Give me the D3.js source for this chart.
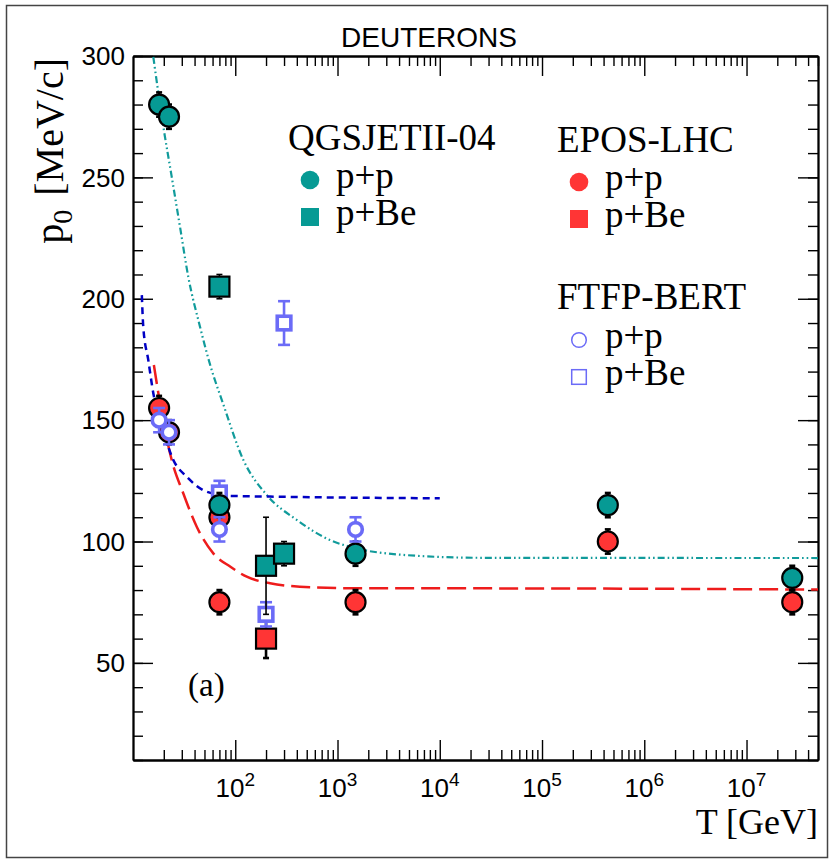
<!DOCTYPE html>
<html>
<head>
<meta charset="utf-8">
<script src="https://cdn.jsdelivr.net/npm/d3@7"></script>
<style>
  body { margin: 0; background: #fff; }
  svg { display: block; }
</style>
</head>
<body>
<svg id="chart"></svg>
<script>
////////////////////////////////////////////////////////////////////////////////
//////////////////////////////////////////////////////// Data
////////////////////////////////////////////////////////////////////////////////

// T [GeV], p0 [MeV/c], error [MeV/c]
const qgsPpT   = [18, 22.5, 70, 1500, 4.4e5, 2.8e7];
const qgsPpP   = [280, 275, 115, 95, 115, 85];
const qgsPpErr = [5, 5, 5, 5, 5, 5];

const qgsPbeT   = [70, 200, 300];
const qgsPbeP   = [205, 90, 95];
const qgsPbeErr = [5, 20, 5];

const eposPpT   = [18, 22.5, 70, 70, 1500, 4.4e5, 2.8e7];
const eposPpP   = [155, 145, 110, 75, 75, 100, 75];
const eposPpErr = [5, 5, 5, 5, 5, 5, 5];

const eposPbeT   = [200];
const eposPbeP   = [60];
const eposPbeErr = [8];

const ftfPpT   = [18, 22.5, 70, 1500];
const ftfPpP   = [150, 145, 105, 105];
const ftfPpErr = [5, 5, 5, 5];

const ftfPbeT   = [70, 200, 300];
const ftfPbeP   = [120, 70, 190];
const ftfPbeErr = [5, 5, 9];

// fit curves
const qgsFitT = [15.8, 19.8, 23.9, 28.8, 34.7, 45.2, 56.6, 76.4, 120, 203, 399, 844, 1517, 3794, 24700, 5e7];
const qgsFitP = [299.6, 270.9, 250.3, 229.7, 209.1, 188.5, 173, 156.5, 133.6, 119.2, 108.9, 100.6, 97.2, 94.7, 93.3, 93.2];

const eposFitT = [16, 17.7, 23.9, 31, 42, 61, 89.7, 129.5, 219, 580, 1786, 24700, 5e7];
const eposFitP = [172.7, 161.1, 133.6, 119.9, 106.1, 95.1, 89.6, 85.5, 82.8, 81.1, 80.7, 80.7, 80.2];

const ftfFitT = [12.2, 12.6, 14.1, 15.8, 19.6, 24.8, 33.5, 52.6, 88.9, 219, 1e4];
const ftfFitP = [201.5, 188.5, 174.8, 161.1, 146, 133.6, 126.7, 120.5, 118.8, 118.5, 117.8];

// axis labels
const yTickLabels = [50, 100, 150, 200, 250, 300];
const xTickExponents = [2, 3, 4, 5, 6, 7];

////////////////////////////////////////////////////////////////////////////////
//////////////////////////////////////////////////////////////////// Chart setup
////////////////////////////////////////////////////////////////////////////////

const teal = "#069a94";
const red = "#ff3535";
const lightBlue = "#6b6bf7";
const serif = "'Liberation Serif', 'Times New Roman', serif";
const sans = "'Liberation Sans', Arial, Helvetica, sans-serif";

const margin = { top: 56, right: 15, bottom: 102, left: 133 };
const width = 833 - margin.left - margin.right;
const height = 862 - margin.top - margin.bottom;

const svg = d3.select("#chart")
              .attr("width", 833)
              .attr("height", 862);

// outer border of the canvas
svg.append("rect")
     .attr("x", 6.5).attr("y", 5.5)
     .attr("width", 821).attr("height", 852)
     .attr("fill", "#fff")
     .attr("stroke", "#444")
     .attr("stroke-width", 1.5);

const g = svg.append("g")
               .attr("transform", `translate(${margin.left},${margin.top})`);

const xScale = d3.scaleLog().domain([10, 5e7]).range([0, width]);
const yScale = d3.scaleLinear().domain([10, 300]).range([height, 0]);

// minor tick positions
const xMinor = [];
for (let e = 1; e <= 7; e++) {
  for (let m = 2; m <= 9; m++) {
    if (m * 10 ** e <= 5e7) xMinor.push(m * 10 ** e);
  }
}
const xMajor = xTickExponents.map(e => 10 ** e);
const yMinor = d3.range(10, 301, 10);

function drawTicks(axis, values, size, transform) {
  const a = g.append("g")
               .attr("transform", transform)
               .call(axis.tickValues(values).tickSize(size).tickSizeOuter(0).tickFormat(""));
  a.select(".domain").attr("stroke-width", 1.8);
  a.selectAll(".tick line").attr("stroke-width", 1.4);
}

// bottom & top
drawTicks(d3.axisBottom(xScale), xMinor, -10, `translate(0,${height})`);
drawTicks(d3.axisBottom(xScale), xMajor, -20, `translate(0,${height})`);
drawTicks(d3.axisTop(xScale), xMinor, -10, "translate(0,0)");
drawTicks(d3.axisTop(xScale), xMajor, -20, "translate(0,0)");
// left & right
drawTicks(d3.axisLeft(yScale), yMinor, -10, "translate(0,0)");
drawTicks(d3.axisLeft(yScale), yTickLabels, -20, "translate(0,0)");
drawTicks(d3.axisRight(yScale), yMinor, -10, `translate(${width},0)`);
drawTicks(d3.axisRight(yScale), yTickLabels, -20, `translate(${width},0)`);

// Y tick labels
g.selectAll(".ylab")
  .data(yTickLabels)
  .join("text")
    .attr("x", -8)
    .attr("y", d => yScale(d))
    .attr("dy", "0.36em")
    .attr("text-anchor", "end")
    .style("font-family", sans)
    .style("font-size", "26px")
    .text(d => d);

// X tick labels 10^n
xTickExponents.forEach(function(e) {
  const t = g.append("text")
               .attr("x", xScale(10 ** e))
               .attr("y", height + 37)
               .attr("text-anchor", "middle")
               .style("font-family", sans)
               .style("font-size", "26px");
  t.append("tspan").text("10");
  t.append("tspan").attr("dy", -11).style("font-size", "19px").text(e);
});

// Titles
svg.append("text")
     .attr("x", 429).attr("y", 47)
     .attr("text-anchor", "middle")
     .style("font-family", sans)
     .style("font-size", "28px")
     .text("DEUTERONS");

svg.append("text")
     .attr("x", 818).attr("y", 834)
     .attr("text-anchor", "end")
     .style("font-family", serif)
     .style("font-size", "36px")
     .text("T [GeV]");

const yTitle = svg.append("text")
                    .attr("transform", "translate(63,58) rotate(-90)")
                    .attr("text-anchor", "end")
                    .style("font-family", serif)
                    .style("font-size", "40px");
yTitle.append("tspan").text("p");
yTitle.append("tspan").attr("dy", 9).style("font-size", "28px").text("0");
yTitle.append("tspan").attr("dy", -9).attr("dx", 14).text("[MeV/c]");

svg.append("text")
     .attr("x", 188).attr("y", 696)
     .style("font-family", serif)
     .style("font-size", "33px")
     .text("(a)");

////////////////////////////////////////////////////////////////////////////////
///////////////////////////////////////////////////////////////////// Fit curves
////////////////////////////////////////////////////////////////////////////////

g.append("clipPath").attr("id", "plotClip")
   .append("rect").attr("width", width).attr("height", height);

function drawCurve(T, P, color, dash, w) {
  const pts = T.map((t, i) => [xScale(t), yScale(P[i])]);
  g.append("path")
     .attr("clip-path", "url(#plotClip)")
     .attr("d", d3.line().curve(d3.curveMonotoneX)(pts))
     .attr("fill", "none")
     .attr("stroke", color)
     .attr("stroke-width", w)
     .attr("stroke-dasharray", dash);
}

drawCurve(qgsFitT, qgsFitP, "#119b9b", "7,3,1.6,3,1.6,3", 2.2);
drawCurve(eposFitT, eposFitP, "#ee1c1c", "19,7", 2.5);
drawCurve(ftfFitT, ftfFitP, "#0000c4", "7,5", 2.5);

////////////////////////////////////////////////////////////////////////////////
///////////////////////////////////////////////////////////////////////// Points
////////////////////////////////////////////////////////////////////////////////

function drawErrors(T, P, E, color, w, cap) {
  T.forEach(function(t, i) {
    const x = xScale(t);
    const y1 = yScale(P[i] - E[i]);
    const y2 = yScale(P[i] + E[i]);
    g.append("line").attr("x1", x).attr("x2", x).attr("y1", y1).attr("y2", y2)
       .attr("stroke", color).attr("stroke-width", w);
    [y1, y2].forEach(function(y) {
      g.append("line").attr("x1", x - cap / 2).attr("x2", x + cap / 2).attr("y1", y).attr("y2", y)
         .attr("stroke", color).attr("stroke-width", w);
    });
  });
}

function drawFilled(T, P, E, color, shape, barW) {
  drawErrors(T, P, E, "#000", barW, 6);
  T.forEach(function(t, i) {
    const x = xScale(t);
    const y = yScale(P[i]);
    if (shape == "circle") {
      g.append("circle").attr("cx", x).attr("cy", y).attr("r", 10)
         .attr("fill", color).attr("stroke", "#000").attr("stroke-width", 2.2);
    } else {
      g.append("rect").attr("x", x - 10).attr("y", y - 10).attr("width", 20).attr("height", 20)
         .attr("fill", color).attr("stroke", "#000").attr("stroke-width", 2.2);
    }
  });
}

function drawOpen(T, P, E, shape) {
  drawErrors(T, P, E, lightBlue, 2.6, 12);
  T.forEach(function(t, i) {
    const x = xScale(t);
    const y = yScale(P[i]);
    if (shape == "circle") {
      g.append("circle").attr("cx", x).attr("cy", y).attr("r", 6.8)
         .attr("fill", "#fff").attr("stroke", lightBlue).attr("stroke-width", 3.6);
    } else {
      g.append("rect").attr("x", x - 6.8).attr("y", y - 6.8).attr("width", 13.6).attr("height", 13.6)
         .attr("fill", "#fff").attr("stroke", lightBlue).attr("stroke-width", 3.6);
    }
  });
}

drawFilled(eposPpT, eposPpP, eposPpErr, red, "circle", 2.6);
drawFilled(eposPbeT, eposPbeP, eposPbeErr, red, "square", 2.6);
drawOpen(ftfPbeT, ftfPbeP, ftfPbeErr, "square");
drawFilled(qgsPpT, qgsPpP, qgsPpErr, teal, "circle", 2.6);
drawFilled(qgsPbeT, qgsPbeP, qgsPbeErr, teal, "square", 1.6);
drawOpen(ftfPpT, ftfPpP, ftfPpErr, "circle");

////////////////////////////////////////////////////////////////////////////////
///////////////////////////////////////////////////////////////////////// Legend
////////////////////////////////////////////////////////////////////////////////

function legendHeader(x, y, label) {
  svg.append("text").attr("x", x).attr("y", y)
       .style("font-family", serif).style("font-size", "37px")
       .text(label);
}

function legendItem(x, y, label, marker, color) {
  if (marker == "circle") {
    svg.append("circle").attr("cx", x).attr("cy", y).attr("r", 9.3).attr("fill", color);
  } else if (marker == "square") {
    svg.append("rect").attr("x", x - 9).attr("y", y - 9).attr("width", 18).attr("height", 18).attr("fill", color);
  } else if (marker == "ocircle") {
    svg.append("circle").attr("cx", x).attr("cy", y).attr("r", 7.3)
         .attr("fill", "none").attr("stroke", color).attr("stroke-width", 1.5);
  } else {
    svg.append("rect").attr("x", x - 7.3).attr("y", y - 7.3).attr("width", 14.6).attr("height", 14.6)
         .attr("fill", "none").attr("stroke", color).attr("stroke-width", 1.5);
  }
  svg.append("text").attr("x", x + 26).attr("y", y + 8)
       .style("font-family", serif).style("font-size", "37px")
       .text(label);
}

legendHeader(288, 150, "QGSJETII-04");
legendItem(310, 180, "p+p", "circle", teal);
legendItem(310, 217, "p+Be", "square", teal);

legendHeader(557, 152, "EPOS-LHC");
legendItem(579, 182, "p+p", "circle", red);
legendItem(579, 219, "p+Be", "square", red);

legendHeader(557, 309, "FTFP-BERT");
legendItem(579, 340, "p+p", "ocircle", lightBlue);
legendItem(579, 377, "p+Be", "osquare", lightBlue);
</script>
</body>
</html>
